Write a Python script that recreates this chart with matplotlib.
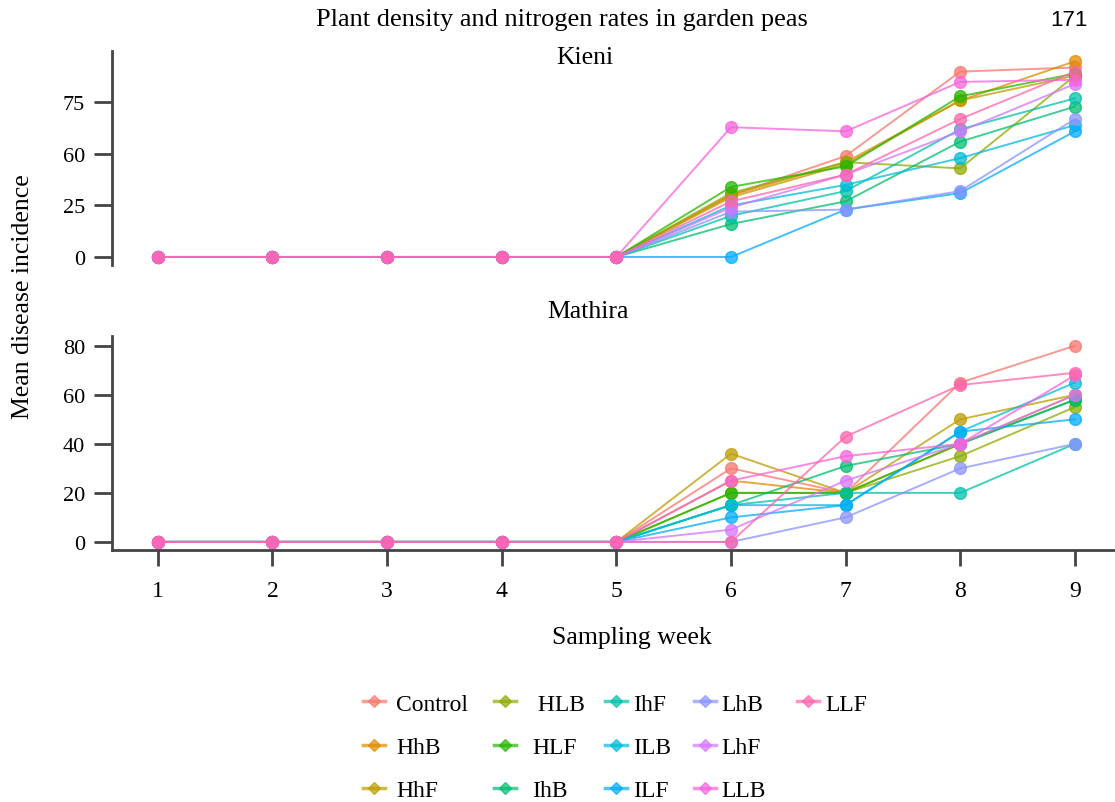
import matplotlib
matplotlib.use("Agg")
import matplotlib.pyplot as plt
from matplotlib.lines import Line2D

plt.rcParams['font.family'] = ['Liberation Serif', 'DejaVu Serif']

weeks = [1, 2, 3, 4, 5, 6, 7, 8, 9]
treatments = ["Control", "HhB", "HhF", "HLB", "HLF", "IhB", "IhF",
              "ILB", "ILF", "LhB", "LhF", "LLB", "LLF"]
legend_labels = ["Control", "HhB", "HhF", " HLB", "HLF", "IhB", "IhF",
                 "ILB", "ILF", "LhB", "LhF", "LLB", "LLF"]
colors = ["#F8766D", "#E18A00", "#BE9C00", "#8CAB00", "#24B700", "#00BE70",
          "#00C1AB", "#00BBDA", "#00ACFC", "#8B93FF", "#D575FE", "#F962DD", "#FF65AC"]

kieni = {
    "Control": [0, 0, 0, 0, 0, 30, 49, 90, 92],
    "HhB":     [0, 0, 0, 0, 0, 30, 46, 76, 95],
    "HhF":     [0, 0, 0, 0, 0, 29, 45, 76, 88],
    "HLB":     [0, 0, 0, 0, 0, 31, 46, 43, 88],
    "HLF":     [0, 0, 0, 0, 0, 34, 44, 78, 89],
    "IhB":     [0, 0, 0, 0, 0, 16, 27, 56, 73],
    "IhF":     [0, 0, 0, 0, 0, 20, 32, 62, 77],
    "ILB":     [0, 0, 0, 0, 0, 25, 35, 48, 64],
    "ILF":     [0, 0, 0, 0, 0, 0, 23, 31, 61],
    "LhB":     [0, 0, 0, 0, 0, 22, 23, 32, 67],
    "LhF":     [0, 0, 0, 0, 0, 24, 40, 61, 84],
    "LLB":     [0, 0, 0, 0, 0, 63, 61, 85, 86],
    "LLF":     [0, 0, 0, 0, 0, 27, 40, 67, 90],
}

mathira = {
    "Control": [0, 0, 0, 0, 0, 30, 20, 65, 80],
    "HhB":     [0, 0, 0, 0, 0, 25, 20, 40, 60],
    "HhF":     [0, 0, 0, 0, 0, 36, 20, 50, 60],
    "HLB":     [0, 0, 0, 0, 0, 20, 20, 35, 55],
    "HLF":     [0, 0, 0, 0, 0, 20, 20, 40, 58],
    "IhB":     [0, 0, 0, 0, 0, 15, 31, 40, 58],
    "IhF":     [0, 0, 0, 0, 0, 15, 20, 20, 40],
    "ILB":     [0, 0, 0, 0, 0, 15, 15, 45, 65],
    "ILF":     [0, 0, 0, 0, 0, 10, 15, 45, 50],
    "LhB":     [0, 0, 0, 0, 0, 0, 10, 30, 40],
    "LhF":     [0, 0, 0, 0, 0, 5, 25, 40, 60],
    "LLB":     [0, 0, 0, 0, 0, 25, 35, 40, 68],
    "LLF":     [0, 0, 0, 0, 0, 0, 43, 64, 69],
}

kieni_ticks = [0, 25, 50, 75]
kieni_ticklabels = ["0", "25", "60", "75"]
mathira_ticks = [0, 20, 40, 60, 80]
mathira_ticklabels = ["0", "20", "40", "60", "80"]

W, H = 1115, 803
fig = plt.figure(figsize=(W / 100, H / 100), dpi=100)

def fx(px):
    return px / W

def fy(py):
    return 1 - py / H

ax1 = fig.add_axes([fx(112), fy(266), 1 - fx(112), fy(52) - fy(266)])
ax2 = fig.add_axes([fx(112), fy(551), 1 - fx(112), fy(337) - fy(551)])

spine_color = "#444444"
for ax, data, yl, ticks, labels in [(ax1, kieni, (-3.9, 100), kieni_ticks, kieni_ticklabels),
                                    (ax2, mathira, (-3.3, 84), mathira_ticks, mathira_ticklabels)]:
    for t, c in zip(treatments, colors):
        ax.plot(weeks, data[t], color=c, lw=1.4, alpha=0.75,
                marker='o', ms=8.5, mec=c, mfc=c, zorder=2)
    ax.set_xlim(0.6, 9.35)
    ax.set_ylim(*yl)
    ax.set_yticks(ticks)
    ax.set_yticklabels(labels, fontsize=16)
    for s in ["top", "right"]:
        ax.spines[s].set_visible(False)
    ax.spines["left"].set_color(spine_color)
    ax.spines["left"].set_linewidth(2)
    ax.tick_params(axis='y', length=13, width=2, color=spine_color, pad=6.5)

ax1.spines["bottom"].set_visible(False)
ax1.set_xticks([])
ax2.spines["bottom"].set_color(spine_color)
ax2.spines["bottom"].set_linewidth(2)
ax2.set_xticks(weeks)
ax2.set_xticklabels([str(w) for w in weeks], fontsize=17)
ax2.tick_params(axis='x', length=11.5, width=2, color=spine_color, pad=10)

fig.text(fx(562), fy(20), "Plant density and nitrogen rates in garden peas",
         ha='center', va='center', fontsize=19)
fig.text(fx(1069), fy(20), "171", ha='center', va='center', fontsize=16,
         family=['Liberation Sans', 'DejaVu Sans'])
fig.text(fx(585), fy(58), "Kieni", ha='center', va='center', fontsize=18.5)
fig.text(fx(588), fy(312), "Mathira", ha='center', va='center', fontsize=18.5)
fig.text(fx(23), fy(297), "Mean disease incidence", ha='center', va='center',
         rotation=90, fontsize=18.5)
fig.text(fx(632), fy(638), "Sampling week", ha='center', va='center', fontsize=18.5)

# legend, drawn column-wise
fs_leg = 17
col_handle_x = [374, 505, 616, 705, 808]
col_text_x = [396, 532, 633, 721, 825]
col_groups = [[0, 1, 2], [3, 4, 5], [6, 7, 8], [9, 10, 11], [12]]
row_y = [707, 749, 791]
em_px = fs_leg * 100 / 72
for hx, tx, group in zip(col_handle_x, col_text_x, col_groups):
    handles = []
    labs = []
    for i in group:
        c = colors[i]
        handles.append(Line2D([], [], color=c, lw=2.5, alpha=0.7, marker='D', ms=6.5,
                              mfc=c, mec=c))
        labs.append(legend_labels[i])
    hl_px = 22
    gap_px = tx - (hx + hl_px / 2)
    fig.legend(handles=handles, labels=labs, loc='upper left',
               bbox_to_anchor=(fx(hx - hl_px / 2), fy(row_y[0] - 13)), frameon=False,
               fontsize=fs_leg, handlelength=hl_px / em_px,
               handletextpad=max(gap_px, 0) / em_px, labelspacing=0.92,
               borderaxespad=0, borderpad=0)

fig.savefig("out.png", dpi=100)
